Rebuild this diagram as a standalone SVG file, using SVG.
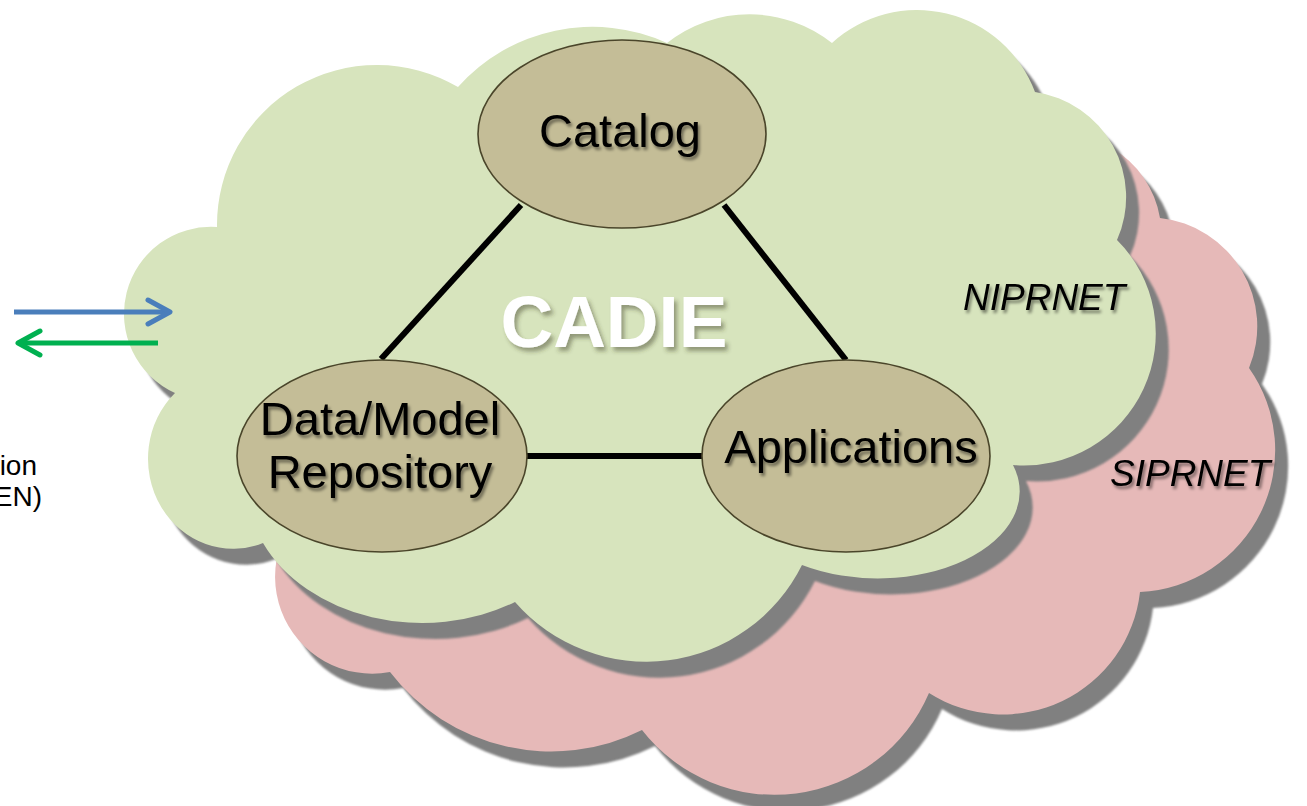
<svg xmlns="http://www.w3.org/2000/svg" width="1307" height="806" viewBox="0 0 1307 806">
<style>
.shadow{fill:#808080}
.green{fill:#D7E4BD}
.pink{fill:#E6B9B8}
.node{fill:#C4BD97;stroke:#4A452A;stroke-width:1.6}
.lbl{font-family:"Liberation Sans",Arial,sans-serif;font-size:47px;fill:#000;text-anchor:middle}
.net{font-family:"Liberation Sans",Arial,sans-serif;font-size:37px;font-style:italic;fill:#000}
.side{font-family:"Liberation Sans",Arial,sans-serif;font-size:28px;fill:#000;text-anchor:end}
.edge{stroke:#000;stroke-width:6;fill:none}
</style>
<defs>
<filter id="blur" x="-5%" y="-5%" width="110%" height="110%"><feGaussianBlur stdDeviation="1.2"/></filter>
<filter id="ts" x="-10%" y="-20%" width="120%" height="150%"><feDropShadow dx="2" dy="3" stdDeviation="1.6" flood-color="#000" flood-opacity="0.45"/></filter>
<filter id="ts2" x="-10%" y="-20%" width="120%" height="150%"><feDropShadow dx="3" dy="4" stdDeviation="2" flood-color="#3a3a20" flood-opacity="0.45"/></filter>
<path id="pinkCloud" d="M 1026,141 A 100 100 0 0 1 1160,218 A 109 109 0 0 1 1249,368 A 142 142 0 0 1 1140,592 A 138 138 0 0 1 929,693 A 168 168 0 0 1 642,730 A 203 203 0 0 1 390,672 A 97 97 0 0 1 323,493 L 600,300 Z"/>
<path id="greenCloud" d="M 175,393 A 87 87 0 0 1 217,227 A 160 160 0 0 1 458,87 A 180 180 0 0 1 667,43 A 133 133 0 0 1 832,43 A 126 126 0 0 1 1035,92 A 106 106 0 0 1 1117,240 A 132 132 0 0 1 1013,465 A 142 87 0 0 1 802,565 A 174 174 0 0 1 515,602 A 175 137 0 0 1 263,543 A 85 90 0 0 1 175,393 Z"/>
<marker id="headBlue" markerUnits="userSpaceOnUse" markerWidth="40" markerHeight="40" refX="30" refY="20" orient="auto" viewBox="0 0 40 40"><path d="M 8,8 L 30,20 L 8,32" fill="none" stroke="#4A7EBB" stroke-width="5" stroke-linecap="round" stroke-linejoin="round"/></marker>
<marker id="headGreen" markerUnits="userSpaceOnUse" markerWidth="40" markerHeight="40" refX="30" refY="20" orient="auto" viewBox="0 0 40 40"><path d="M 8,8 L 30,20 L 8,32" fill="none" stroke="#00B050" stroke-width="5" stroke-linecap="round" stroke-linejoin="round"/></marker>
</defs>
<rect width="1307" height="806" fill="#FFFFFF"/>

<g id="siprnet-cloud">
<use href="#pinkCloud" class="shadow" transform="translate(13,16)" filter="url(#blur)"/>
<use href="#pinkCloud" class="pink"/>
<text class="net" x="1110" y="486" filter="url(#ts)">SIPRNET</text>
</g>

<g id="niprnet-cloud">
<use href="#greenCloud" class="shadow" transform="translate(13,16)" filter="url(#blur)"/>
<use href="#greenCloud" class="green"/>
<text class="net" x="963" y="310" filter="url(#ts)">NIPRNET</text>
<text x="614" y="347" font-family="Liberation Sans, Arial, sans-serif" font-size="73" font-weight="bold" fill="#FFFFFF" text-anchor="middle" filter="url(#ts2)">CADIE</text>
</g>

<g id="connectors">
<line class="edge" x1="521" y1="205" x2="381" y2="359"/>
<line class="edge" x1="724" y1="205" x2="846" y2="360"/>
<line class="edge" x1="526" y1="456" x2="703" y2="456"/>
<line x1="14" y1="312" x2="170" y2="312" stroke="#4A7EBB" stroke-width="5" marker-end="url(#headBlue)"/>
<line x1="158" y1="343" x2="18" y2="343" stroke="#00B050" stroke-width="5" marker-end="url(#headGreen)"/>
</g>

<g id="catalog">
<ellipse class="node" cx="622" cy="134" rx="144" ry="94"/>
<text class="lbl" x="620" y="147" filter="url(#ts)">Catalog</text>
</g>

<g id="data-model-repository">
<ellipse class="node" cx="382" cy="456" rx="145" ry="96"/>
<text class="lbl" x="380" y="435" filter="url(#ts)">Data/Model</text>
<text class="lbl" x="380" y="488" filter="url(#ts)">Repository</text>
</g>

<g id="applications">
<ellipse class="node" cx="846" cy="456" rx="144" ry="96"/>
<text class="lbl" x="851" y="463" filter="url(#ts)">Applications</text>
</g>

<g id="side-label">
<text class="side" x="37" y="475">ion</text>
<text class="side" x="42" y="506">EN)</text>
</g>
</svg>
